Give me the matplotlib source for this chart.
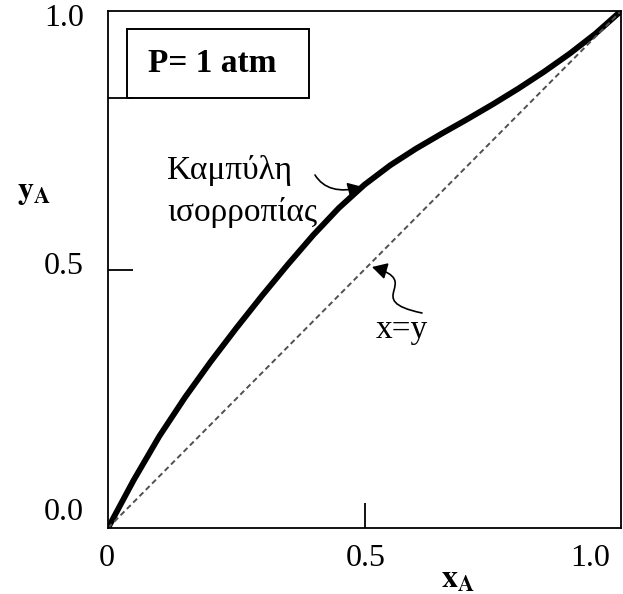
import numpy as np
import matplotlib.pyplot as plt
from matplotlib.patches import Rectangle, FancyArrowPatch
from matplotlib.path import Path

# equilibrium curve
x_liquid = [0, 0.05, 0.10, 0.15, 0.20, 0.25, 0.30, 0.35, 0.40, 0.45, 0.50,
            0.55, 0.60, 0.65, 0.70, 0.75, 0.80, 0.85, 0.90, 0.95, 1.0]
y_vapour = [0, 0.0925, 0.1775, 0.2525, 0.3215, 0.3865, 0.449, 0.509, 0.5665, 0.619, 0.664,
            0.7015, 0.7335, 0.7625, 0.7905, 0.8195, 0.85, 0.8825, 0.9175, 0.956, 1.0]
diag = [0, 1]

xtick_labels = ['0', '0.5', '1.0']
ytick_labels = ['0.0', '0.5', '1.0']
pressure_label = 'P= 1 atm'
curve_label = ['Καμπύλη', 'ισορροπίας']
diag_label = 'x=y'

W, H = 623, 594
plt.rcParams['font.family'] = ['Liberation Serif', 'DejaVu Serif']
plt.rcParams['mathtext.fontset'] = 'stix'

fig = plt.figure(figsize=(W / 100, H / 100), dpi=100)
ax = fig.add_axes([108 / W, 66 / H, 513 / W, 517 / H])


def px(x, y):
    # pixel position in the picture -> figure fraction
    return x / W, 1 - y / H


def pa(x, y):
    # pixel position -> axes fraction
    return (x - 108) / 513, (528 - y) / 517


ax.plot(x_liquid, y_vapour, color='black', lw=4.2, solid_capstyle='round',
        solid_joinstyle='round')
ax.plot(diag, diag, color='#505050', lw=1.4, dashes=(2.8, 1.8))

ax.set_xlim(0, 1)
ax.set_ylim(0, 1)
for s in ax.spines.values():
    s.set_linewidth(1.3)

# inward ticks, no default labels
ax.set_xticks([0.5])
ax.set_yticks([0.5, pa(0, 98)[1]])
ax.tick_params(direction='in', length=18, width=1.3, labelbottom=False, labelleft=False)

# tick labels placed like the scan
for lab, y in zip(ytick_labels, [512, 267, 18]):
    fig.text(*px(84, y), lab, ha='right', va='center', fontsize=23)
for lab, x in zip(xtick_labels, [107, 366, 590]):
    fig.text(*px(x, 559), lab, ha='center', va='center', fontsize=23)

fig.text(*px(17, 192), r'$\mathbf{y}_{\mathbf{A}}$', ha='left', va='center', fontsize=23)
fig.text(*px(441, 580), r'$\mathbf{x}_{\mathbf{A}}$', ha='left', va='center', fontsize=23)

# pressure box
x0, y0 = pa(127, 98)
x1, y1 = pa(309, 29)
ax.add_patch(Rectangle((x0, y0), x1 - x0, y1 - y0, transform=ax.transAxes,
                       fill=False, lw=1.4, ec='black'))
ax.text(*pa(212, 63), pressure_label, transform=ax.transAxes, ha='center',
        va='center', fontsize=24, fontweight='bold')

# labels with squiggly arrows
ax.text(*pa(167, 170), curve_label[0], transform=ax.transAxes, ha='left', va='center', fontsize=24)
ax.text(*pa(167, 213), curve_label[1], transform=ax.transAxes, ha='left', va='center', fontsize=24)
ax.text(*pa(402, 330), diag_label, transform=ax.transAxes, ha='center', va='center', fontsize=24)

arrow_paths = [
    [pa(315, 175), pa(328, 196), pa(363, 187)],
    [pa(422, 313), pa(360, 300), pa(425, 282), pa(372, 267)],
]
for verts in arrow_paths:
    codes = [Path.MOVETO] + ([Path.CURVE3] * 2 if len(verts) == 3 else [Path.CURVE4] * 3)
    arr = FancyArrowPatch(path=Path(verts, codes), transform=ax.transAxes,
                          arrowstyle='-|>,head_length=9,head_width=5',
                          color='black', lw=1.2, mutation_scale=1)
    ax.add_patch(arr)

fig.savefig('out.png', dpi=100)
